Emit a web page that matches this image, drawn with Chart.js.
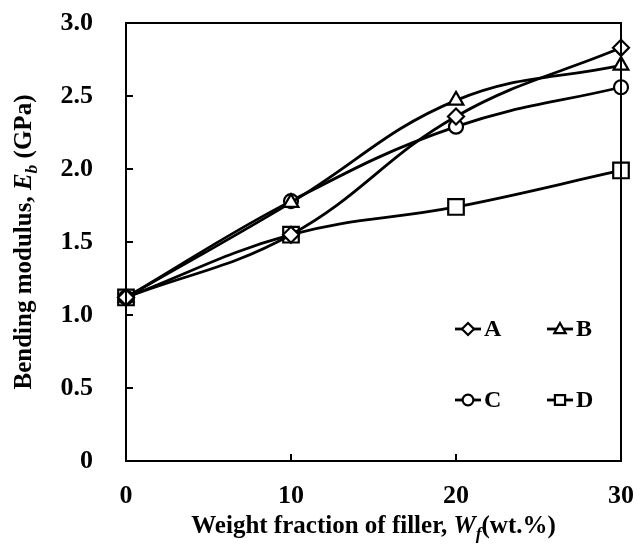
<!DOCTYPE html>
<html>
<head>
<meta charset="utf-8">
<script src="https://cdn.jsdelivr.net/npm/chart.js@4/dist/chart.umd.min.js"></script>
<style>
  html, body { margin: 0; padding: 0; background: #fff; }
  #wrap { width: 642px; height: 549px; }
</style>
</head>
<body>
<div id="wrap"><canvas id="myChart"></canvas></div>
<script>
//------------------------------ data ------------------------------

const fillerWt  = [0, 10, 20, 30];
const modulusA  = [1.12, 1.55, 2.36, 2.83];
const modulusB  = [1.12, 1.77, 2.47, 2.71];
const modulusC  = [1.12, 1.78, 2.29, 2.56];
const modulusD  = [1.12, 1.55, 1.74, 1.99];
const seriesNames = ['A', 'B', 'C', 'D'];
const yTicks = [0, 0.5, 1.0, 1.5, 2.0, 2.5, 3.0];
const xTicks = [0, 10, 20, 30];

const serif = '"Liberation Serif", "Times New Roman", serif';

function pts(ys) {
    return fillerWt.map((x, i) => ({ x: x, y: ys[i] }));
}

function makeSet(label, ys, style, r) {
    return {
        label: label,
        data: pts(ys),
        borderColor: '#000',
        backgroundColor: '#fff',
        borderWidth: 2.8,
        pointStyle: style,
        pointRadius: r,
        pointBorderWidth: 2.2,
        pointBackgroundColor: '#fff',
        pointBorderColor: '#000',
        tension: 0.4,
        clip: false
    };
}

//------------------------------ marker helper for the legend ------------------------------

function marker(ctx, style, x, y, r) {
    ctx.beginPath();
    if (style === 'rectRot') {
        ctx.moveTo(x, y - r); ctx.lineTo(x + r, y); ctx.lineTo(x, y + r); ctx.lineTo(x - r, y); ctx.closePath();
    } else if (style === 'triangle') {
        ctx.moveTo(x, y - r); ctx.lineTo(x + r * 0.95, y + r * 0.7); ctx.lineTo(x - r * 0.95, y + r * 0.7); ctx.closePath();
    } else if (style === 'circle') {
        ctx.arc(x, y, r * 0.9, 0, Math.PI * 2);
    } else {
        ctx.rect(x - r * 0.85, y - r * 0.8, r * 1.7, r * 1.6);
    }
    ctx.fillStyle = '#fff';
    ctx.fill();
    ctx.stroke();
}

// draw text pieces: [text, italic, subscript], centred on 0
function richText(ctx, pieces, size) {
    let w = 0;
    pieces.forEach(p => {
        const s = p[2] ? size * 0.7 : size;
        ctx.font = (p[1] ? 'italic ' : '') + 'bold ' + s + 'px ' + serif;
        w += ctx.measureText(p[0]).width;
    });
    let x = -w / 2;
    pieces.forEach(p => {
        const s = p[2] ? size * 0.7 : size;
        ctx.font = (p[1] ? 'italic ' : '') + 'bold ' + s + 'px ' + serif;
        ctx.fillText(p[0], x, p[2] ? size * 0.28 : 0);
        x += ctx.measureText(p[0]).width;
    });
}

const framePlugin = {
    id: 'frame',
    afterDraw(chart) {
        const ctx = chart.ctx;
        const a = chart.chartArea;
        const xs = chart.scales.x, ys = chart.scales.y;
        ctx.save();
        ctx.strokeStyle = '#000';
        ctx.lineWidth = 2;
        ctx.strokeRect(a.left, a.top, a.right - a.left, a.bottom - a.top);
        // inward tick marks
        ctx.beginPath();
        yTicks.forEach(v => {
            const py = ys.getPixelForValue(v);
            ctx.moveTo(a.left, py); ctx.lineTo(a.left + 7, py);
        });
        xTicks.forEach(v => {
            const px = xs.getPixelForValue(v);
            ctx.moveTo(px, a.bottom); ctx.lineTo(px, a.bottom - 7);
        });
        ctx.stroke();

        // legend, 2 x 2 in the lower right corner
        ctx.textBaseline = 'middle';
        ctx.textAlign = 'left';
        chart.data.datasets.forEach((ds, i) => {
            const cx = a.right - 153 + (i % 2) * 92;
            const cy = a.bottom - 132 + Math.floor(i / 2) * 71;
            ctx.lineWidth = 2.8;
            ctx.beginPath();
            ctx.moveTo(cx - 13, cy); ctx.lineTo(cx + 13, cy);
            ctx.stroke();
            ctx.lineWidth = 2.2;
            marker(ctx, ds.pointStyle, cx, cy, 6);
            ctx.fillStyle = '#000';
            ctx.font = 'bold 24px ' + serif;
            ctx.fillText(ds.label, cx + 16, cy + 1);
        });

        // axis titles
        ctx.fillStyle = '#000';
        ctx.save();
        ctx.translate((a.left + a.right) / 2, 527);
        richText(ctx, [['Weight fraction of filler, ', false, false], ['W', true, false], ['f', true, true], ['(wt.%)', false, false]], 25);
        ctx.restore();
        ctx.save();
        ctx.translate(25, (a.top + a.bottom) / 2);
        ctx.rotate(-Math.PI / 2);
        richText(ctx, [['Bending modulus, ', false, false], ['E', true, false], ['b', true, true], [' (GPa)', false, false]], 25);
        ctx.restore();
        ctx.restore();
    }
};

function noPad(s) {
    s.paddingLeft = 0; s.paddingRight = 0; s.paddingTop = 0; s.paddingBottom = 0;
}

const config = {
    type: 'line',
    data: {
        datasets: [
            makeSet(seriesNames[0], modulusA, 'rectRot', 8),
            makeSet(seriesNames[1], modulusB, 'triangle', 8.5),
            makeSet(seriesNames[2], modulusC, 'circle', 7),
            makeSet(seriesNames[3], modulusD, 'rect', 11)
        ]
    },
    options: {
        responsive: true,
        maintainAspectRatio: false,
        animation: false,
        layout: { padding: { top: 23, right: 21, left: 0, bottom: 0 } },
        plugins: { legend: { display: false }, tooltip: { enabled: false } },
        scales: {
            x: {
                type: 'linear',
                min: 0, max: 30,
                afterFit(s) { s.height = 88; noPad(s); },
                afterBuildTicks(s) { s.ticks = xTicks.map(v => ({ value: v })); },
                grid: { display: false, drawTicks: false, tickLength: 0 },
                border: { display: false },
                ticks: {
                    color: '#000',
                    padding: 20,
                    maxRotation: 0,
                    font: { family: serif, size: 26, weight: 'bold' }
                }
            },
            y: {
                min: 0, max: 3,
                afterFit(s) { s.width = 126; noPad(s); },
                afterBuildTicks(s) { s.ticks = yTicks.map(v => ({ value: v })); },
                grid: { display: false, drawTicks: false, tickLength: 0 },
                border: { display: false },
                ticks: {
                    color: '#000',
                    padding: 33,
                    font: { family: serif, size: 26, weight: 'bold' },
                    callback: v => v === 0 ? '0' : v.toFixed(1)
                }
            }
        }
    },
    plugins: [framePlugin]
};

var chartEb = new Chart(document.getElementById('myChart'), config);
</script>
</body>
</html>
